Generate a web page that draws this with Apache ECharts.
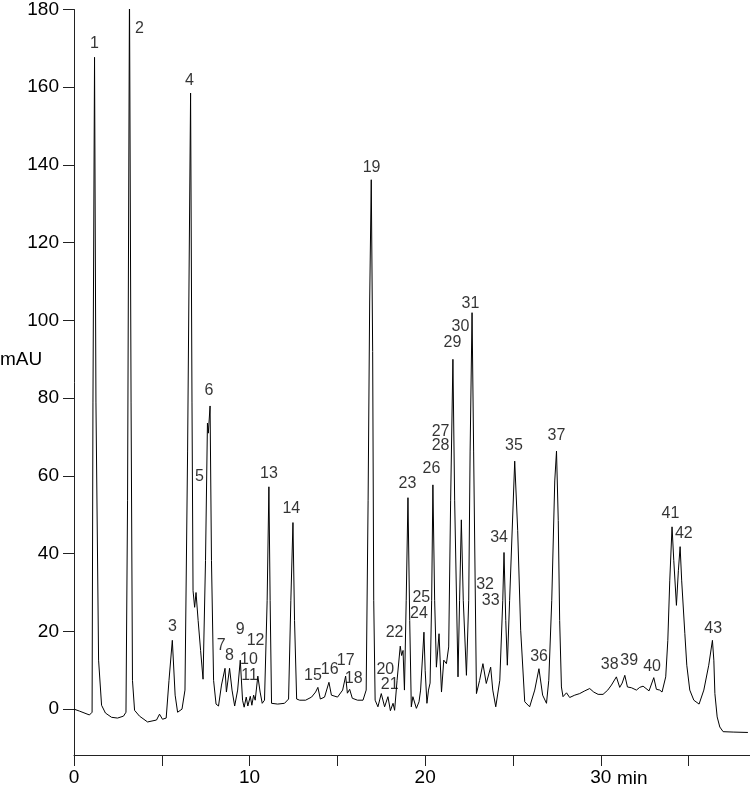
<!DOCTYPE html>
<html>
<head>
<meta charset="utf-8">
<script src="https://cdn.jsdelivr.net/npm/echarts@6/dist/echarts.min.js"></script>
<style>
  html, body { margin: 0; padding: 0; background: #fff; }
  #chart { width: 750px; height: 789px; }
</style>
</head>
<body>
<div id="chart"></div>
<script>
// chromatogram trace, [time (min), absorbance (mAU)]
const trace = [
  [0, 0], [0.31, -0.5], [0.88, -1.5], [1.03, -0.8], [1.08, 79], [1.17, 167.7], [1.25, 79],
  [1.40, 12.6], [1.57, 1.0], [1.79, -1.0], [2.14, -2.1], [2.48, -2.3], [2.82, -1.8], [2.96, -0.8],
  [3.05, 53.6], [3.16, 185], [3.25, 79], [3.33, 7.4], [3.45, -0.3], [3.73, -1.8], [4.19, -3.3],
  [4.70, -2.8], [4.87, -1.3], [5.04, -2.6], [5.25, -2.3], [5.41, 7.4], [5.60, 17.7], [5.76, 3.6],
  [5.90, -0.8], [6.15, 0], [6.32, 4.9], [6.47, 66.4], [6.64, 158.5], [6.72, 79], [6.78, 30.5],
  [6.87, 26.2], [6.95, 30], [7.07, 22.8], [7.21, 15.1], [7.35, 7.7], [7.49, 38.2], [7.60, 73.6],
  [7.65, 71], [7.75, 78], [7.83, 38.2], [7.95, 7.4], [8.09, 1.3], [8.23, 0.8], [8.40, 6.2],
  [8.60, 10.5], [8.68, 4.4], [8.86, 10.5], [9.00, 4.9], [9.15, 0.8], [9.32, 4.9], [9.47, 12.6],
  [9.60, 2.3], [9.69, 0.5], [9.81, 3.1], [9.90, 0.8], [10.04, 3.3], [10.13, 1.0], [10.23, 3.6],
  [10.32, 2.3], [10.47, 8.5], [10.60, 4.4], [10.72, 1.5], [10.85, 2.3], [11.00, 28], [11.10, 57.2],
  [11.17, 28], [11.25, 1.5], [11.60, 1.3], [11.99, 1.5], [12.22, 2.6], [12.35, 28], [12.47, 48],
  [12.56, 22.8], [12.68, 2.6], [12.85, 2.3], [13.19, 2.3], [13.53, 3.1], [13.76, 4.4], [13.89, 5.6],
  [14.03, 2.6], [14.27, 3.1], [14.52, 6.9], [14.66, 3.6], [15.01, 3.1], [15.30, 4.9], [15.47, 8.5],
  [15.57, 4.1], [15.70, 5.1], [15.85, 2.8], [16.15, 2.3], [16.46, 2.3], [16.64, 4.9], [16.75, 53.6],
  [16.84, 105], [16.93, 136.2], [17.01, 92], [17.07, 28], [17.15, 2.3], [17.31, 0.6], [17.50, 4.0],
  [17.69, 0.6], [17.88, 3.2], [18.02, -0.4], [18.17, 1.5], [18.26, -0.3], [18.40, 7.4], [18.58, 16.2],
  [18.66, 13.8], [18.74, 15.1], [18.82, 4.9], [18.92, 28], [19.02, 54.4], [19.12, 22.8], [19.21, 0.6],
  [19.30, 3.2], [19.50, 0.2], [19.65, 1.9], [19.74, 4.9], [19.93, 19.8], [20.00, 10], [20.10, 1.5],
  [20.19, 4.9], [20.28, 6.7], [20.37, 28], [20.44, 57.7], [20.54, 28], [20.64, 10.8], [20.79, 19.4],
  [20.93, 4.4], [21.06, 12.6], [21.21, 11.7], [21.34, 16], [21.45, 53.6], [21.58, 90], [21.68, 53.6],
  [21.87, 8.3], [21.96, 28], [22.06, 48.7], [22.17, 28], [22.35, 8.7], [22.48, 28], [22.56, 66.4],
  [22.67, 102], [22.76, 66.4], [22.92, 4.0], [23.10, 7.4], [23.29, 11.7], [23.48, 6.6], [23.73, 10.8],
  [23.85, 4.9], [24.02, 0.6], [24.25, 7.4], [24.42, 28], [24.49, 40.3], [24.59, 22.8], [24.68, 11.3],
  [24.81, 28], [25.10, 63.8], [25.27, 45.9], [25.44, 20.3], [25.67, 1.9], [25.95, 0.6], [26.24, 4.9],
  [26.48, 10.4], [26.69, 3.6], [26.91, 1.5], [27.04, 7.4], [27.21, 28], [27.38, 58.7], [27.48, 66.4],
  [27.58, 48.5], [27.66, 22.8], [27.76, 5.7], [27.85, 3.2], [28.05, 4.2], [28.23, 3.0], [28.52, 3.6],
  [28.80, 4.0], [29.09, 4.7], [29.37, 5.3], [29.60, 4.4], [29.85, 3.8], [30.13, 3.8], [30.40, 4.9],
  [30.61, 6.2], [30.89, 8.3], [31.08, 5.6], [31.22, 6.7], [31.37, 8.7], [31.52, 5.7], [31.75, 5.5],
  [32.03, 4.9], [32.22, 5.6], [32.41, 5.9], [32.75, 4.7], [33.02, 8.1], [33.17, 5.1], [33.36, 4.9],
  [33.49, 4.4], [33.70, 8.3], [33.82, 17.7], [33.93, 33], [34.06, 46.9], [34.16, 38.2], [34.31, 26.7],
  [34.42, 35.6], [34.52, 41.8], [34.61, 33], [34.79, 19.4], [34.90, 11.3], [35.07, 4.9], [35.30, 2.3],
  [35.60, 1.3], [35.87, 4.9], [36.15, 11.3], [36.36, 17.7], [36.44, 12.6], [36.50, 4.0], [36.63, -2.0],
  [36.78, -4.6], [36.97, -5.8], [37.54, -5.9], [38.38, -6.0]
]

// peak numbers and where their labels sit
const peakNames = [
  '1', '2', '3', '4', '5', '6', '7', '8', '9', '10', '11', '12', '13', '14', '15', '16', '17', '18',
  '19', '20', '21', '22', '23', '24', '25', '26', '27', '28', '29', '30', '31', '32', '33', '34',
  '35', '36', '37', '38', '39', '40', '41', '42', '43'
]
const labelTimes = [
  1.17, 3.73, 5.61, 6.58, 7.15, 7.69, 8.38, 8.86, 9.47, 9.96, 10.0, 10.34, 11.10, 12.38, 13.61,
  14.56, 15.47, 15.93, 16.95, 17.73, 17.98, 18.26, 18.99, 19.65, 19.78, 20.36, 20.88, 20.88, 21.55,
  22.01, 22.58, 23.41, 23.73, 24.21, 25.06, 26.49, 27.48, 30.51, 31.62, 32.92, 33.97, 34.73, 36.40
]
const labelValues = [
  171.2, 175.2, 21.2, 161.7, 59.8, 82.0, 16.4, 13.9, 20.5, 12.8, 8.7, 17.6, 60.6, 51.6, 8.7, 10.2,
  12.4, 7.9, 139.2, 10.2, 6.2, 19.7, 58.0, 24.7, 28.6, 61.8, 71.3, 67.7, 94.2, 98.5, 104.4, 32.0,
  27.8, 44.1, 67.9, 13.6, 70.5, 11.5, 12.4, 11.0, 50.3, 45.1, 20.6
]

const yTicks = [0, 20, 40, 60, 80, 100, 120, 140, 160, 180]
const xTicks = [0, 5, 10, 15, 20, 25, 30, 35]
const xLabels = [0, 10, 20, 30]

const chart = echarts.init(document.getElementById('chart'))

const font = '"Liberation Sans", Arial, Helvetica, sans-serif'
const axisColor = '#222'

const option = {
  backgroundColor: '#fff',
  animation: false,
  grid: { left: 74, right: 0, top: 7, bottom: 34, containLabel: false },
  xAxis: {
    type: 'value',
    min: 0,
    max: 38.5,
    axisLine: { show: true, onZero: false, lineStyle: { color: axisColor, width: 1 } },
    axisTick: { show: true, inside: false, length: 11, customValues: xTicks, lineStyle: { color: axisColor } },
    axisLabel: {
      customValues: xLabels,
      color: '#000',
      fontFamily: font,
      fontSize: 19,
      margin: 13,
    },
    splitLine: { show: false },
  },
  yAxis: {
    type: 'value',
    min: -11.8,
    max: 180,
    axisLine: { show: true, onZero: false, lineStyle: { color: axisColor, width: 1 } },
    axisTick: { show: true, inside: false, length: 11, customValues: yTicks, lineStyle: { color: axisColor } },
    axisLabel: {
      customValues: yTicks,
      color: '#000',
      fontFamily: font,
      fontSize: 19,
      margin: 15,
    },
    splitLine: { show: false },
  },
  graphic: [
    { type: 'text', left: 0, top: 350, style: { text: 'mAU', font: '19px ' + font, fill: '#000' } },
    { type: 'text', left: 617, top: 769, style: { text: 'min', font: '19px ' + font, fill: '#000' } },
  ],
  series: [
    {
      name: 'trace',
      type: 'line',
      data: trace,
      symbol: 'none',
      clip: true,
      lineStyle: { color: '#000', width: 1 },
    },
    {
      name: 'peaks',
      type: 'scatter',
      symbolSize: 1,
      itemStyle: { color: 'rgba(0,0,0,0)' },
      data: peakNames.map((n, i) => ({ name: n, value: [labelTimes[i], labelValues[i]] })),
      label: {
        show: true,
        position: 'inside',
        formatter: '{b}',
        color: '#000',
        fontFamily: font,
        fontSize: 16,
      },
      labelLayout: { hideOverlap: false },
      z: 3,
    },
  ],
}

chart.setOption(option)
</script>
</body>
</html>
